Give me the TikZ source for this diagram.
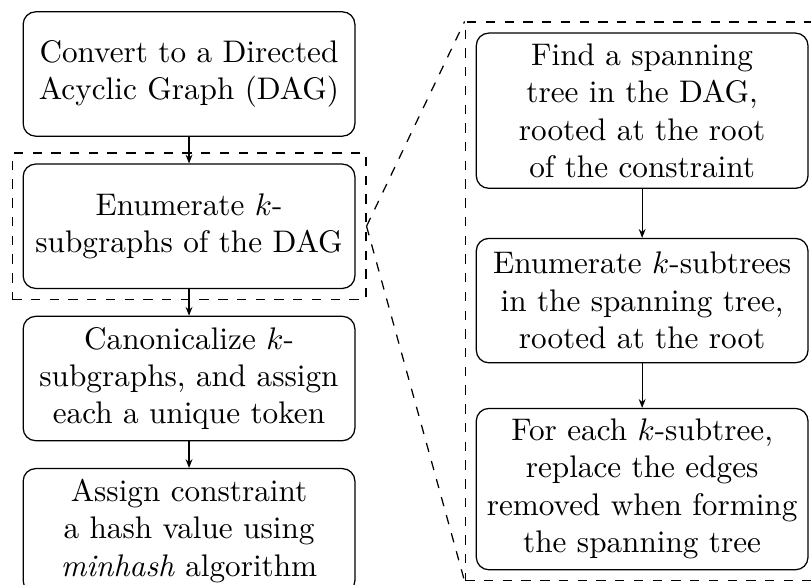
\documentclass[tikz,border=0pt]{standalone}
\usepackage{tikz}
\usetikzlibrary{arrows.meta,positioning,fit}
\tikzset{
    stage/.style={
        draw,rounded corners,text width=3.5cm,
        minimum height=1.4cm,align=center
    },
    arrow/.style={
        -{Stealth[length=2.8pt,width=2.2pt]}
    },
    zoombox/.style={
        draw,dashed
    }
}

\begin{document}
\begin{tikzpicture}

\useasboundingbox (0,0) rectangle (9.13,-6.58);

% main pipeline
\node[stage] (dag) at (2.128,-0.833)
{Convert to a Directed Acyclic Graph (DAG)};

\node[stage,below=0.3cm of dag] (enum)
{Enumerate $k$-subgraphs of the DAG};

\node[stage,below=0.3cm of enum] (canon)
{Canonicalize $k$-subgraphs, and assign each a unique token};

\node[stage,below=0.3cm of canon] (hash)
{Assign constraint a hash value using \textit{minhash} algorithm};

\draw[arrow](dag)--(enum);
\draw[arrow](enum)--(canon);
\draw[arrow](canon)--(hash);

% detail of the enumeration step
\node[stage] (subtree) at (7.229,-3.384)
{Enumerate $k$-subtrees in the spanning tree, rooted at the root};

\node[stage,above=0.55cm of subtree] (span)
{Find a spanning tree in the DAG, rooted at the root of the constraint};

\node[stage,below=0.5cm of subtree] (restore)
{For each $k$-subtree, replace the edges removed when forming the spanning tree};

\draw[arrow](span)--(subtree);
\draw[arrow](subtree)--(restore);

\node[zoombox,fit=(enum)] (enumfit) {};
\node[zoombox,fit=(span)(restore)] (detailfit) {};

\draw[dashed] (enumfit.east) -- (detailfit.north west);
\draw[dashed] (enumfit.east) -- (detailfit.south west);

\end{tikzpicture}
\end{document}
